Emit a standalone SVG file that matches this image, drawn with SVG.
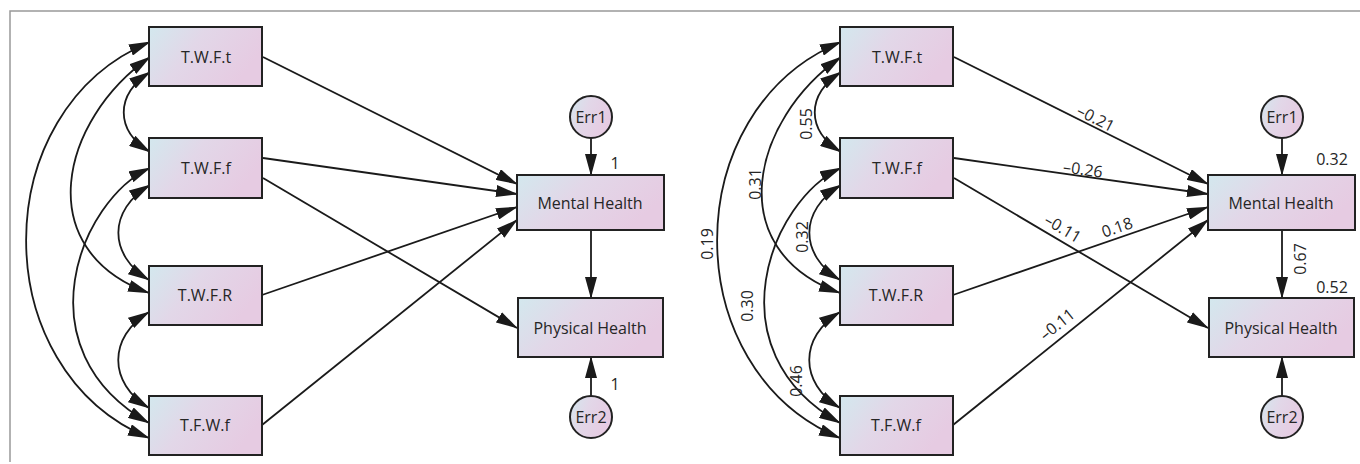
<svg xmlns="http://www.w3.org/2000/svg" width="1360" height="464" viewBox="0 0 1360 464">
<defs>
<linearGradient id="g" x1="0" y1="0" x2="1" y2="0.4">
<stop offset="0" stop-color="#d3e8ee"/>
<stop offset="0.45" stop-color="#e2d7e8"/>
<stop offset="1" stop-color="#e6cbe2"/>
</linearGradient>
<marker id="ah" markerUnits="userSpaceOnUse" markerWidth="22" markerHeight="12" refX="21" refY="6" orient="auto-start-reverse" viewBox="0 0 22 12">
<path d="M0,0 L22,6 L0,12 z" fill="#1a1a1a"/>
</marker>
<style>
.box{fill:url(#g);stroke:#222;stroke-width:2}
.err{fill:url(#g);stroke:#222;stroke-width:2}
.lbl{font-family:"Open Sans","Noto Sans",sans-serif;font-size:16px;fill:#262626;text-anchor:middle;dominant-baseline:central}
.num{font-family:"Open Sans","Noto Sans",sans-serif;font-size:16px;fill:#262626;text-anchor:middle;dominant-baseline:central}
.c{fill:none;stroke:#1a1a1a;stroke-width:1.8}
.a{marker-end:url(#ah)}
.d{marker-start:url(#ah);marker-end:url(#ah)}
</style>
</defs>
<rect width="1360" height="464" fill="#fff"/>
<path d="M10,462 V11 H1360" fill="none" stroke="#999" stroke-width="1.5"/>

<!-- LEFT PANEL -->
<g id="connectors-left">
<path class="c d" d="M150,72 C115,95 115,130 150,152"/>
<path class="c d" d="M150,185 C108,210 108,255 149,280"/>
<path class="c d" d="M149,312 C108,337 108,383 149,408"/>
<path class="c d" d="M150,57 C60,120 30,250 149,293"/>
<path class="c d" d="M150,168 C80,200 20,350 149,423"/>
<path class="c d" d="M150,42 C-15,110 -15,370 149,438"/>
<line class="c a" x1="263" y1="57" x2="517" y2="184"/>
<line class="c a" x1="263" y1="158" x2="517" y2="194"/>
<line class="c a" x1="263" y1="178" x2="517" y2="328"/>
<line class="c a" x1="262" y1="295" x2="517" y2="207"/>
<line class="c a" x1="262" y1="425" x2="517" y2="220"/>
<line class="c a" x1="591" y1="230" x2="591" y2="298"/>
<line class="c a" x1="591" y1="138" x2="591" y2="175"/>
<line class="c a" x1="591" y1="396" x2="591" y2="357"/>
</g>
<g id="L-twft"><rect class="box" x="149" y="27" width="113" height="59"/><text class="lbl" x="206" y="57">T.W.F.t</text></g>
<g id="L-twff"><rect class="box" x="149" y="138" width="113" height="60"/><text class="lbl" x="206" y="168">T.W.F.f</text></g>
<g id="L-twfr"><rect class="box" x="149" y="266" width="113" height="59"/><text class="lbl" x="205" y="295">T.W.F.R</text></g>
<g id="L-tfwf"><rect class="box" x="149" y="396" width="113" height="59"/><text class="lbl" x="205" y="425">T.F.W.f</text></g>
<g id="L-mental"><rect class="box" x="517" y="175" width="147" height="55"/><text class="lbl" x="590" y="203">Mental Health</text></g>
<g id="L-physical"><rect class="box" x="518" y="298" width="145" height="59"/><text class="lbl" x="590" y="328">Physical Health</text></g>
<g id="L-err1"><circle class="err" cx="591" cy="117" r="21"/><text class="lbl" x="591" y="117">Err1</text></g>
<g id="L-err2"><circle class="err" cx="591" cy="417" r="21"/><text class="lbl" x="591" y="417">Err2</text></g>
<g id="L-labels">
<text class="num" x="615" y="163">1</text>
<text class="num" x="615" y="384">1</text>
</g>

<!-- RIGHT PANEL -->
<g transform="translate(691,0)">
<g id="connectors-right">
<path class="c d" d="M150,72 C115,95 115,130 150,152"/>
<path class="c d" d="M150,185 C108,210 108,255 149,280"/>
<path class="c d" d="M149,312 C108,337 108,383 149,408"/>
<path class="c d" d="M150,57 C60,120 30,250 149,293"/>
<path class="c d" d="M150,168 C80,200 20,350 149,423"/>
<path class="c d" d="M150,42 C-15,110 -15,370 149,438"/>
<line class="c a" x1="263" y1="57" x2="517" y2="184"/>
<line class="c a" x1="263" y1="158" x2="517" y2="194"/>
<line class="c a" x1="263" y1="178" x2="517" y2="328"/>
<line class="c a" x1="262" y1="295" x2="517" y2="207"/>
<line class="c a" x1="262" y1="425" x2="517" y2="220"/>
<line class="c a" x1="591" y1="230" x2="591" y2="298"/>
<line class="c a" x1="591" y1="138" x2="591" y2="175"/>
<line class="c a" x1="591" y1="396" x2="591" y2="357"/>
</g>
<g id="R-twft"><rect class="box" x="149" y="27" width="113" height="59"/><text class="lbl" x="206" y="57">T.W.F.t</text></g>
<g id="R-twff"><rect class="box" x="149" y="138" width="113" height="60"/><text class="lbl" x="206" y="168">T.W.F.f</text></g>
<g id="R-twfr"><rect class="box" x="149" y="266" width="113" height="59"/><text class="lbl" x="205" y="295">T.W.F.R</text></g>
<g id="R-tfwf"><rect class="box" x="149" y="396" width="113" height="59"/><text class="lbl" x="205" y="425">T.F.W.f</text></g>
<g id="R-mental"><rect class="box" x="517" y="175" width="147" height="55"/><text class="lbl" x="590" y="203">Mental Health</text></g>
<g id="R-physical"><rect class="box" x="518" y="298" width="145" height="59"/><text class="lbl" x="590" y="328">Physical Health</text></g>
<g id="R-err1"><circle class="err" cx="591" cy="117" r="21"/><text class="lbl" x="591" y="117">Err1</text></g>
<g id="R-err2"><circle class="err" cx="591" cy="417" r="21"/><text class="lbl" x="591" y="417">Err2</text></g>
</g>
<g id="R-labels">
<text class="num" x="806" y="124" transform="rotate(-90 806 124)">0.55</text>
<text class="num" x="755" y="184" transform="rotate(-90 755 184)">0.31</text>
<text class="num" x="802" y="237" transform="rotate(-90 802 237)">0.32</text>
<text class="num" x="707" y="244" transform="rotate(-90 707 244)">0.19</text>
<text class="num" x="747" y="306" transform="rotate(-90 747 306)">0.30</text>
<text class="num" x="796" y="381" transform="rotate(-90 796 381)">0.46</text>
<text class="num" x="1300" y="259" transform="rotate(-90 1300 259)">0.67</text>
<text class="num" x="1332" y="159">0.32</text>
<text class="num" x="1332" y="287">0.52</text>
<text class="num" x="1096" y="118" transform="rotate(27 1096 118)">–0.21</text>
<text class="num" x="1083" y="169" transform="rotate(8 1083 169)">–0.26</text>
<text class="num" x="1063" y="228" transform="rotate(31 1063 228)">–0.11</text>
<text class="num" x="1117" y="227" transform="rotate(-19 1117 227)">0.18</text>
<text class="num" x="1057" y="324" transform="rotate(-39 1057 324)">–0.11</text>
</g>
</svg>
